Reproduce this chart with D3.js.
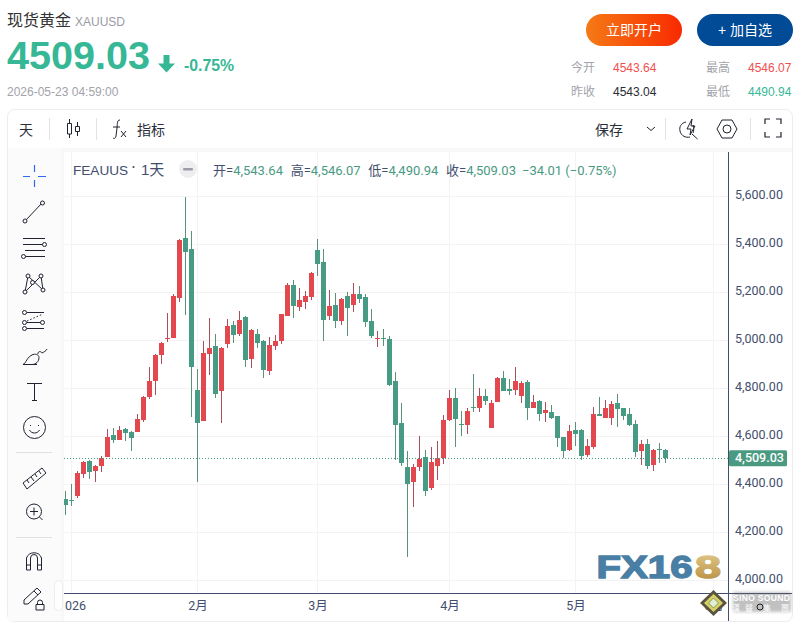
<!DOCTYPE html>
<html>
<head>
<meta charset="utf-8">
<script src="https://d3js.org/d3.v7.min.js"></script>
<style>
html, body { margin: 0; padding: 0; background: #fff; overflow: hidden; }
text { font-family: "Liberation Sans", "Noto Sans CJK SC", sans-serif; }
.rb text, text.rb { font-family: Roboto, "Noto Sans CJK SC", sans-serif; }
</style>
</head>
<body>
<div id="container"></div>
<script>
var opens = [4339,4334,4351,4443,4497,4455,4476,4514,4605,4585,4630,4618,4618,4668,4764,4830,4939,5007,5010,5176,5426,5380,4793,4664,4943,4976,4789,4985,5064,5026,5097,4922,5026,4997,4872,4976,4997,5101,5230,5139,5160,5180,5376,5326,5101,5147,5080,5185,5147,5193,5180,5080,5007,5009,5005,4830,4655,4472,4410,4472,4514,4385,4476,4510,4668,4760,4653,4647,4724,4718,4768,4635,4743,4843,4797,4793,4768,4826,4718,4747,4697,4701,4685,4597,4543,4626,4626,4522,4555,4693,4676,4676,4739,4718,4693,4651,4539,4568,4480,4546,4543.64];
var highs = [4372,4401,4455,4497,4501,4480,4518,4630,4635,4643,4635,4622,4693,4768,4889,4943,4993,5114,5193,5422,5600,5455,4880,4997,5093,5026,4972,5089,5080,5122,5101,5047,5047,5001,5014,5022,5110,5239,5251,5218,5205,5285,5422,5380,5209,5197,5176,5201,5239,5226,5193,5130,5039,5047,5018,4868,4739,4539,4485,4601,4543,4555,4580,4689,4793,4801,4705,4718,4860,4801,4797,4751,4847,4872,4839,4889,4830,4835,4772,4751,4743,4730,4685,4597,4647,4660,4630,4589,4722,4764,4751,4747,4776,4718,4718,4668,4585,4589,4547,4572,4546.07];
var lows = [4272,4310,4343,4426,4422,4410,4451,4514,4572,4585,4580,4539,4618,4660,4755,4772,4901,4993,5010,5160,5105,4680,4410,4664,4855,4760,4655,4968,4989,5018,4889,4885,4968,4843,4855,4960,4985,5101,5093,5122,5130,5168,5268,4997,5085,5051,5064,5018,5118,5155,5055,5010,4972,4976,4810,4501,4476,4097,4305,4455,4351,4376,4418,4485,4664,4555,4601,4610,4701,4701,4730,4635,4743,4789,4772,4772,4739,4668,4718,4664,4660,4672,4555,4510,4539,4560,4501,4514,4547,4685,4676,4647,4639,4668,4643,4514,4480,4464,4455,4489,4490.94];
var closes = [4314,4332,4447,4493,4451,4476,4510,4597,4585,4626,4614,4593,4672,4764,4830,4939,4989,5010,5185,5418,5368,4889,4655,4947,4968,4776,4968,5060,5022,5085,4918,5043,4989,4876,4980,4997,5110,5230,5143,5168,5185,5280,5318,5085,5143,5080,5172,5135,5193,5172,5076,5018,5010,5006,4814,4647,4489,4401,4472,4505,4372,4493,4510,4668,4760,4672,4650,4705,4721,4768,4747,4739,4843,4789,4789,4830,4822,4718,4743,4693,4710,4676,4593,4539,4622,4610,4518,4560,4693,4685,4718,4735,4714,4685,4647,4535,4568,4476,4543,4543,4509.03];

var priceTicks = [4000,4200,4400,4600,4800,5000,5200,5400,5600];
var timeTickIndex = [1,22,42,64,85,108];
var timeTickLabels = ["2026","2月","3月","4月","5月","6月"];

var lastPrice = 4509.03;

var width = 800, height = 623;
var plot = {left: 64, right: 728, top: 152, bottom: 593};

var svg = d3.select("#container").append("svg")
  .attr("width", width).attr("height", height)
  .style("display", "block");

var defs = svg.append("defs");
var grad = defs.append("linearGradient").attr("id", "btn");
grad.append("stop").attr("offset", "0%").attr("stop-color", "#f57a15");
grad.append("stop").attr("offset", "100%").attr("stop-color", "#f92a00");
var gold = defs.append("linearGradient").attr("id", "gold").attr("x1", 0).attr("x2", 0).attr("y1", 0).attr("y2", 1);
gold.append("stop").attr("offset", "0%").attr("stop-color", "#e6cf94");
gold.append("stop").attr("offset", "100%").attr("stop-color", "#b58a3c");
defs.append("clipPath").attr("id", "plotclip").append("rect")
  .attr("x", plot.left).attr("y", plot.top)
  .attr("width", plot.right - plot.left).attr("height", plot.bottom - plot.top);
defs.append("clipPath").attr("id", "xclip").append("rect")
  .attr("x", 65).attr("y", 593).attr("width", 663).attr("height", 28);
var blur = defs.append("filter").attr("id", "soft").attr("x", "-20%").attr("y", "-30%").attr("width", "140%").attr("height", "160%");
blur.append("feGaussianBlur").attr("stdDeviation", 1.4);

function txt(g, x, y, s, size, fill, weight, anchor) {
  return g.append("text").attr("x", x).attr("y", y).text(s)
    .attr("font-size", size).attr("fill", fill)
    .attr("font-weight", weight || "normal")
    .attr("text-anchor", anchor || "start");
}

// header
var head = svg.append("g");
txt(head, 7, 26, "现货黄金", 16, "#333");
txt(head, 75, 26, "XAUUSD", 12, "#9a9aa5");
txt(head, 7, 69, "4509.03", 39.6, "#36b795", "bold");
head.append("path").attr("d", "M163.5 55h6v8.5h5.5l-8.5 9l-8.5 -9h5.5z").attr("fill", "#36b795");
txt(head, 184, 71, "-0.75%", 15.8, "#36b795", "bold");
txt(head, 7, 96, "2026-05-23 04:59:00", 12, "#a3a3ab");

head.append("rect").attr("x", 586).attr("y", 14).attr("width", 96).attr("height", 32).attr("rx", 16).attr("fill", "url(#btn)");
head.append("rect").attr("x", 697).attr("y", 14).attr("width", 96).attr("height", 32).attr("rx", 16).attr("fill", "#004a96");
txt(head, 634, 35, "立即开户", 14, "#fff", "normal", "middle");
txt(head, 745, 35, "+ 加自选", 14, "#fff", "normal", "middle");

txt(head, 571, 72, "今开", 12, "#a3a3ab");
txt(head, 613, 72, "4543.64", 12, "#ef4f4f");
txt(head, 706, 72, "最高", 12, "#a3a3ab");
txt(head, 748, 72, "4546.07", 12, "#ef4f4f");
txt(head, 571, 96, "昨收", 12, "#a3a3ab");
txt(head, 613, 96, "4543.04", 12, "#2b2b33");
txt(head, 706, 96, "最低", 12, "#a3a3ab");
txt(head, 748, 96, "4490.94", 12, "#36b795");

// frame and panels
svg.append("rect").attr("x", 7.5).attr("y", 109.5).attr("width", 785).attr("height", 512)
  .attr("rx", 7).attr("fill", "#fff").attr("stroke", "#ececef");
svg.append("rect").attr("x", 8).attr("y", 148).attr("width", 784).attr("height", 4).attr("fill", "#f8f8f9");
svg.append("rect").attr("x", 8).attr("y", 148).attr("width", 53).attr("height", 473).attr("fill", "#fbfbfc");
svg.append("rect").attr("x", 61).attr("y", 148).attr("width", 3).attr("height", 473).attr("fill", "#f8f8f9");

// top toolbar
var bar = svg.append("g");
txt(bar, 26, 135, "天", 14, "#2a2e39", "normal", "middle");
txt(bar, 137, 135, "指标", 14, "#2a2e39");
txt(bar, 595, 135, "保存", 14, "#2a2e39");
[49.5, 96.5, 665.5, 750.5].forEach(function(x) {
  bar.append("line").attr("x1", x).attr("x2", x).attr("y1", 118).attr("y2", 140).attr("stroke", "#e2e3e8");
});
var ink = "#1f2230";
function icon(d, w) {
  return bar.append("path").attr("d", d).attr("fill", "none").attr("stroke", ink).attr("stroke-width", w || 1);
}
icon("M69.5 119v4M69.5 134v4M67.5 123.5h4v10.5h-4zM77.5 122v4M77.5 131v5M75.5 126.5h4v5h-4z");
icon("M120 120c-3 0 -2.5 3 -3 8l-1 8c-.5 3 -2 2.5 -3 2M113 127h7M121 131l5 6M126 131l-5 6");
icon("M647 127l4 3.5l4 -3.5");
icon("M686 122c-5 1 -7 5 -6 9c1 5 6 7 10 6M693 125c1 3 1 6 0 8M687 129l5 -10l-1 7l4 0l-5 9l1 -6zM692 134l5.5 5");
icon("M717 129l5 -9h10l5 9l-5 9h-10zM731 129a4 4 0 1 0 -8 0a4 4 0 1 0 8 0z");
icon("M765 124v-5h5M776 119h5v5M781 132v5h-5M770 137h-5v-5", 1.2);

// legend strip
txt(svg, 73, 174.5, "FEAUUS", 13.6, "#434e6e");
svg.append("circle").attr("cx", 133.5).attr("cy", 167).attr("r", 1.1).attr("fill", "#434e6e");
txt(svg, 141, 175, "1天", 15, "#434e6e");
svg.append("circle").attr("cx", 188).attr("cy", 169).attr("r", 9).attr("fill", "#eeeef0");
svg.append("rect").attr("x", 183).attr("y", 168).attr("width", 10).attr("height", 2.4).attr("rx", 1).attr("fill", "#9a9ca6");

// scales
var x = d3.scaleLinear().domain([0, 100]).range([65.5, 665.5]);
var y = d3.scaleLinear().domain([4000, 5600]).range([580.5, 196.5]);

// grid
var grid = svg.append("g").attr("clip-path", "url(#plotclip)");
grid.selectAll("line.h").data(priceTicks).enter().append("line").attr("class", "h")
  .attr("x1", plot.left).attr("x2", plot.right)
  .attr("y1", function(d) { return y(d); }).attr("y2", function(d) { return y(d); })
  .attr("stroke", "#f3f3f4");
grid.selectAll("line.v").data(timeTickIndex).enter().append("line").attr("class", "v")
  .attr("y1", plot.top).attr("y2", plot.bottom)
  .attr("x1", function(d) { return x(d); }).attr("x2", function(d) { return x(d); })
  .attr("stroke", "#f3f3f4");

// ohlc line above the chart
var legend = txt(svg, 213, 175, "", 13, "#434e6e").attr("class", "rb");
var legendParts = [["开=", "#434e6e", 0], ["4,543.64", "#4a9a82", 0], ["高=", "#434e6e", 7.7], ["4,546.07", "#4a9a82", 0], ["低=", "#434e6e", 7.7], ["4,490.94", "#4a9a82", 0], ["收=", "#434e6e", 7.7], ["4,509.03", "#4a9a82", 0], ["−34.01 (−0.75%)", "#4a9a82", 6]];
legend.selectAll("tspan").data(legendParts).enter().append("tspan")
  .text(function(d) { return d[0]; })
  .attr("dx", function(d) { return d[2]; })
  .attr("fill", function(d) { return d[1]; });

// candles
var upBody = "#e3484e", downBody = "#479a84", upWick = "#a94e5a", downWick = "#5a9273";
var candles = svg.append("g").attr("clip-path", "url(#plotclip)");
var idx = d3.range(closes.length);
function isUp(i) { return closes[i] >= opens[i]; }
candles.selectAll("rect.wick").data(idx).enter().append("rect").attr("class", "wick")
  .attr("x", function(i) { return x(i) - 0.5; }).attr("width", 1)
  .attr("y", function(i) { return Math.round(y(highs[i])); })
  .attr("height", function(i) { return Math.max(1, Math.round(y(lows[i])) - Math.round(y(highs[i]))); })
  .attr("fill", function(i) { return isUp(i) ? upWick : downWick; });
candles.selectAll("rect.body").data(idx).enter().append("rect").attr("class", "body")
  .attr("x", function(i) { return x(i) - 2.5; }).attr("width", 5)
  .attr("y", function(i) { return Math.round(y(Math.max(opens[i], closes[i]))); })
  .attr("height", function(i) { return Math.max(1, Math.round(y(Math.min(opens[i], closes[i]))) - Math.round(y(Math.max(opens[i], closes[i])))); })
  .attr("fill", function(i) { return isUp(i) ? upBody : downBody; });

// last price line
svg.append("line").attr("x1", plot.left).attr("x2", plot.right)
  .attr("y1", Math.floor(y(lastPrice)) + 0.5).attr("y2", Math.floor(y(lastPrice)) + 0.5)
  .attr("stroke", "#3f9d85").attr("stroke-dasharray", "1 2");

// axes
var yAxis = d3.axisRight(y).tickValues(priceTicks).tickFormat(d3.format(",.2f")).tickSize(0).tickPadding(7);
var yG = svg.append("g").attr("class", "rb").attr("transform", "translate(" + plot.right + ",0)").call(yAxis);
yG.select(".domain").remove();
yG.selectAll("text").attr("font-size", 12.5).attr("fill", "#434e6e").attr("y", -2).attr("dy", "0.32em");
svg.append("rect").attr("x", plot.right).attr("y", 152).attr("width", 1).attr("height", 469).attr("fill", "#434e6e");

var xAxis = d3.axisBottom(x).tickValues(timeTickIndex)
  .tickFormat(function(d) { return timeTickLabels[timeTickIndex.indexOf(d)]; }).tickSize(0).tickPadding(8);
var xWrap = svg.append("g").attr("clip-path", "url(#xclip)");
var xG = xWrap.append("g").attr("class", "rb").attr("transform", "translate(0," + plot.bottom + ")").call(xAxis);
xG.select(".domain").remove();
xG.selectAll("text").attr("font-size", 12.5).attr("fill", "#434e6e");
svg.append("rect").attr("x", plot.left).attr("y", plot.bottom).attr("width", 728).attr("height", 1).attr("fill", "#434e6e");

// last price tag
svg.append("rect").attr("x", 729).attr("y", y(lastPrice) - 8).attr("width", 58).attr("height", 16).attr("rx", 1.5).attr("fill", "#4a9a82");
txt(svg, 735, y(lastPrice) + 4, d3.format(",.2f")(lastPrice), 12.5, "#fff", "500").attr("class", "rb");

// left drawing tools
var tools = svg.append("g").attr("fill", "none").attr("stroke", "#1f2230");
function tool(d, c, w) {
  return tools.append("path").attr("d", d).attr("stroke", c || "#1f2230").attr("stroke-width", w || 1);
}
function dot(cx, cy) { tools.append("circle").attr("cx", cx).attr("cy", cy).attr("r", 2).attr("fill", "#fbfbfc"); }
tool("M34.5 165v7M34.5 180v7M23 176.5h7M38 176.5h8", "#2e6bf0", 1.2);
tool("M26 220l16 -17"); dot(25, 221); dot(42.5, 203);
tool("M23 238.5h22M23 244.5h22M25 250.5h20M25 256.5h20"); dot(44.5, 244.5); dot(23.5, 256.5);
tool("M25 292L28 276L43 290L41 276L25 292"); dot(25, 292); dot(28, 276); dot(41, 276); dot(43, 290); dot(32.5, 282.5);
tool("M27 312.5h17M27 322.5h17M27 328.5h17"); tools.append("path").attr("d", "M27 321l16 -7").attr("stroke-dasharray", "1.5 2"); dot(24.5, 312.5); dot(24.5, 322.5); dot(24.5, 328.5); dot(42.5, 322.5);
tool("M23 364.5c3 -1 4 -8 10 -10c4 -1 6 1 6 3c0 4 -3 7 -7 7zh14M38 354c0 -4 4 -2 4 -1c2 -1 4 -2 5 -4");
tool("M27 383.5h15M34.5 383.5v17M32 400.5h5");
tool("M45.5 427.5a11 11 0 1 0 -22 0a11 11 0 1 0 22 0zM30 425.5h1M38 425.5h1M29.5 430c2 4 8 4 10 0");
tools.append("line").attr("x1", 16).attr("x2", 52).attr("y1", 452.5).attr("y2", 452.5).attr("stroke", "#dfe0e6");
tool("M23 483l19 -15l4 5l-19 16zM27 480l2 3M31 477l3 4M35 474l2 3M39 471l2 3");
tool("M41.5 511.5a7.5 7.5 0 1 0 -15 0a7.5 7.5 0 1 0 15 0zM34 507.5v8M30 511.5h8M39.5 517l3 3");
tools.append("line").attr("x1", 16).attr("x2", 52).attr("y1", 537.5).attr("y2", 537.5).attr("stroke", "#dfe0e6");
tool("M26.5 570v-12a8 8 0 0 1 15 0v12h-4v-12a3.5 3.5 0 0 0 -7 0v12zM26.5 565h4M37.5 565h4");
tool("M24 600l13 -12l4 4l-13 12h-4zM34 591l4 4M36 604.5h8v5.5h-8zM37.5 604.5v-2a2.5 2.5 0 0 1 5 0v2");
svg.append("rect").attr("x", 54.5).attr("y", 580.5).attr("width", 8).attr("height", 30).attr("rx", 4).attr("fill", "#fff").attr("stroke", "#ececef");
tool("M59.5 592.5l-2.5 3l2.5 3", "#b0b2ba");

// watermark
var wm = svg.append("g");
wm.append("text").attr("x", 596.5).attr("y", 577.5).text("FX16")
  .attr("font-size", 32).attr("font-weight", "bold").attr("fill", "#4a7fa5")
  .attr("stroke", "#4a7fa5").attr("stroke-width", 1.4)
  .attr("textLength", 96).attr("lengthAdjust", "spacingAndGlyphs");
wm.append("text").attr("x", 695).attr("y", 577.5).text("8")
  .attr("font-size", 32).attr("font-weight", "bold").attr("fill", "url(#gold)")
  .attr("stroke", "url(#gold)").attr("stroke-width", 1.4)
  .attr("textLength", 26).attr("lengthAdjust", "spacingAndGlyphs");

var sino = svg.append("g");
sino.append("rect").attr("x", 733).attr("y", 592).attr("width", 58).attr("height", 20).attr("rx", 2).attr("fill", "#666").attr("opacity", 0.4).attr("filter", "url(#soft)");
txt(sino, 733, 600.5, "SINO SOUND", 8.6, "#fff", "bold").attr("textLength", 57);
[736, 749, 767, 785].forEach(function(px, k) {
  txt(sino, px, 610.5, ["漢", "聲", "集", "團"][k], 8, "#fff", "normal", "middle");
});
sino.append("path").attr("d", "M713.5 590l13.5 13l-13.5 13l-13.5 -13z").attr("fill", "#59543e");
sino.append("path").attr("d", "M713.5 594l9.5 9l-9.5 9l-9.5 -9z").attr("fill", "#d8cf6a");
sino.append("path").attr("d", "M713.5 598l5 5l-5 5l-5 -5z").attr("fill", "#e4eed5").attr("stroke", "#7da24a");
sino.append("circle").attr("cx", 760).attr("cy", 607).attr("r", 3).attr("fill", "none").attr("stroke", "#222");
</script>
</body>
</html>
